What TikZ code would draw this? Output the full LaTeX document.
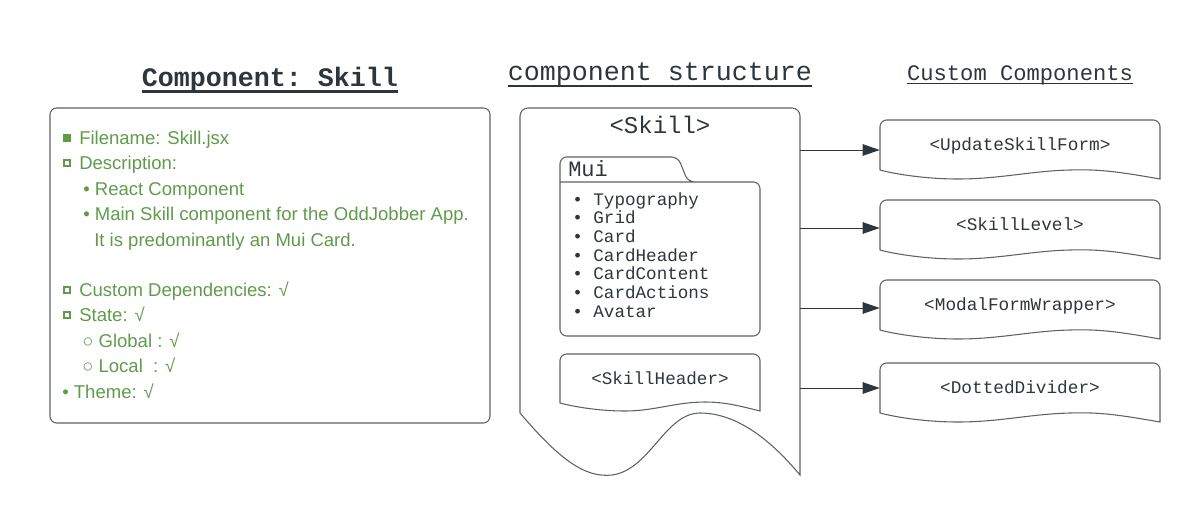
\documentclass[tikz,border=0pt]{standalone}
\usepackage{fontspec}
\setmainfont{Liberation Sans}
\setmonofont{Liberation Mono}
\usetikzlibrary{arrows, arrows.meta}
\usetikzlibrary{calc}
\definecolor{ink}{RGB}{47,53,61}
\definecolor{edge}{RGB}{92,98,106}
\definecolor{leaf}{RGB}{95,155,75}

\tikzset{
  heading/.style={font=\ttfamily\fontsize{20}{24}\selectfont, text=ink, inner sep=0pt, anchor=base},
  docline/.style={draw=edge, line width=0.8pt},
  specbox/.style={draw=edge, line width=0.8pt, rounded corners=5pt, minimum width=330pt, minimum height=236.25pt, inner sep=0pt},
  specline/.style={font=\fontsize{13.9}{16}\selectfont, text=leaf, inner sep=0pt, anchor=base west},
  sqfull/.style={fill=leaf, inner sep=0pt, minimum size=5.6pt},
  sqopen/.style={draw=leaf, line width=1.4pt, inner sep=0pt, minimum size=4.4pt},
  muiitem/.style={font=\ttfamily\fontsize{13.2}{16}\selectfont, text=ink, inner sep=0pt, anchor=base west},
  cbox/.style={font=\ttfamily\fontsize{13.3}{16}\selectfont, text=ink, inner sep=0pt, minimum width=210pt, minimum height=44.25pt, text height=5pt, text depth=3pt},
  link/.style={draw=ink, line width=0.75pt, -{Triangle[length=12.75pt, width=8.6pt]}}
}

\begin{document}
\begin{tikzpicture}[x=0.75pt, y=-0.75pt]
  \useasboundingbox (0,0) rectangle (1200,515);

  % headings
  \node[heading, font=\ttfamily\bfseries\fontsize{20}{24}\selectfont] (spectitle) at (270,86) {Component: Skill};
  \draw[ink, line width=2.2pt] ([yshift=-4.3pt]spectitle.base west) -- ([yshift=-4.3pt]spectitle.base east);
  \node[heading] (structtitle) at (660,80) {component structure};
  \draw[ink, line width=1pt] ([yshift=-4.5pt]structtitle.base west) -- ([yshift=-4.5pt]structtitle.base east);
  \node[heading, font=\ttfamily\fontsize{16.6}{20}\selectfont] (customtitle) at (1020,80.5) {Custom Components};
  \draw[ink, line width=0.9pt] ([yshift=-2.4pt]customtitle.base west) -- ([yshift=-2.4pt]customtitle.base east);

  % component spec
  \node[specbox] (spec) at (270,265.5) {};
  \node[sqfull] (m1) at (67,138) {};
  \node[sqopen] (m2) at (67,163) {};
  \node[sqopen] (m6) at (67,290) {};
  \node[sqopen] (m7) at (67,315) {};
  \node[specline] (l1) at (79,144) {Filename: Skill.jsx};
  \node[specline] (l2) at (79,169) {Description:};
  \node[specline] (l3) at (83,195) {• React Component};
  \node[specline] (l4) at (83,220) {• Main Skill component for the OddJobber App.};
  \node[specline] (l5) at (94,246) {It is predominantly an Mui Card.};
  \node[specline] (l6) at (79,296) {Custom Dependencies: √};
  \node[specline] (l7) at (79,321) {State: √};
  \node[specline] (l8) at (82,347) {○ Global : √};
  \node[specline] (l9) at (82,372) {○ Local~~: √};
  \node[specline] (l10) at (62,398) {• Theme: √};

  % structure
  \draw[docline] (520,413) [rounded corners=6pt] -- (520,108) -- (800,108) [sharp corners] -- (800,475)
    .. controls (775,445) and (740,413) .. (700,413)
    .. controls (665,413) and (650,470) .. (612,475)
    .. controls (585,478) and (560,460) .. (520,413);
  \node[heading, font=\ttfamily\fontsize{18}{22}\selectfont] (skill) at (660,133) {<Skill>};

  \draw[docline] (560,182) -- (690,182) [rounded corners=5pt] -- (760,182) -- (760,336) -- (560,336)
    -- (560,157) -- (678,157) -- (688,182) -- (695,182);
  \node[muiitem, font=\ttfamily\fontsize{16.5}{20}\selectfont] (mui) at (568,176) {Mui};
  \foreach \item [count=\k] in {Typography, Grid, Card, CardHeader, CardContent, CardActions, Avatar}
    \node[muiitem] (item\k) at (572,{205+18.67*(\k-1)}) {• \item};

  \draw[docline] (560,403) [rounded corners=5pt] -- (560,354) -- (760,354) [sharp corners] -- (760,411)
    .. controls (740,406) and (725,402) .. (705,402)
    .. controls (675,402) and (655,411) .. (625,411)
    .. controls (600,411) and (575,407) .. (560,403);
  \node[muiitem, anchor=base] (shead) at (660,384) {<SkillHeader>};

  % custom components
  \foreach \t/\a/\name/\txt in {120/150/upd/{<UpdateSkillForm>}, 200/228/lvl/{<SkillLevel>},
      280/308/mfw/{<ModalFormWrapper>}, 363/388/dot/{<DottedDivider>}} {
    \draw[docline] (880,\t+50) [rounded corners=5pt] -- (880,\t) -- (1160,\t) [sharp corners] -- (1160,\t+59)
      .. controls (1120,\t+52) and (1100,\t+49) .. (1070,\t+50)
      .. controls (1030,\t+51) and (1000,\t+59) .. (958,\t+59)
      .. controls (925,\t+59) and (895,\t+54) .. (880,\t+50);
    \node[cbox] (\name) at (1020,\t+29.5) {\txt};
    \coordinate (s-\name) at (800,\a);
    \draw[link] (s-\name) -- (s-\name -| \name.west);
  }
\end{tikzpicture}
\end{document}
